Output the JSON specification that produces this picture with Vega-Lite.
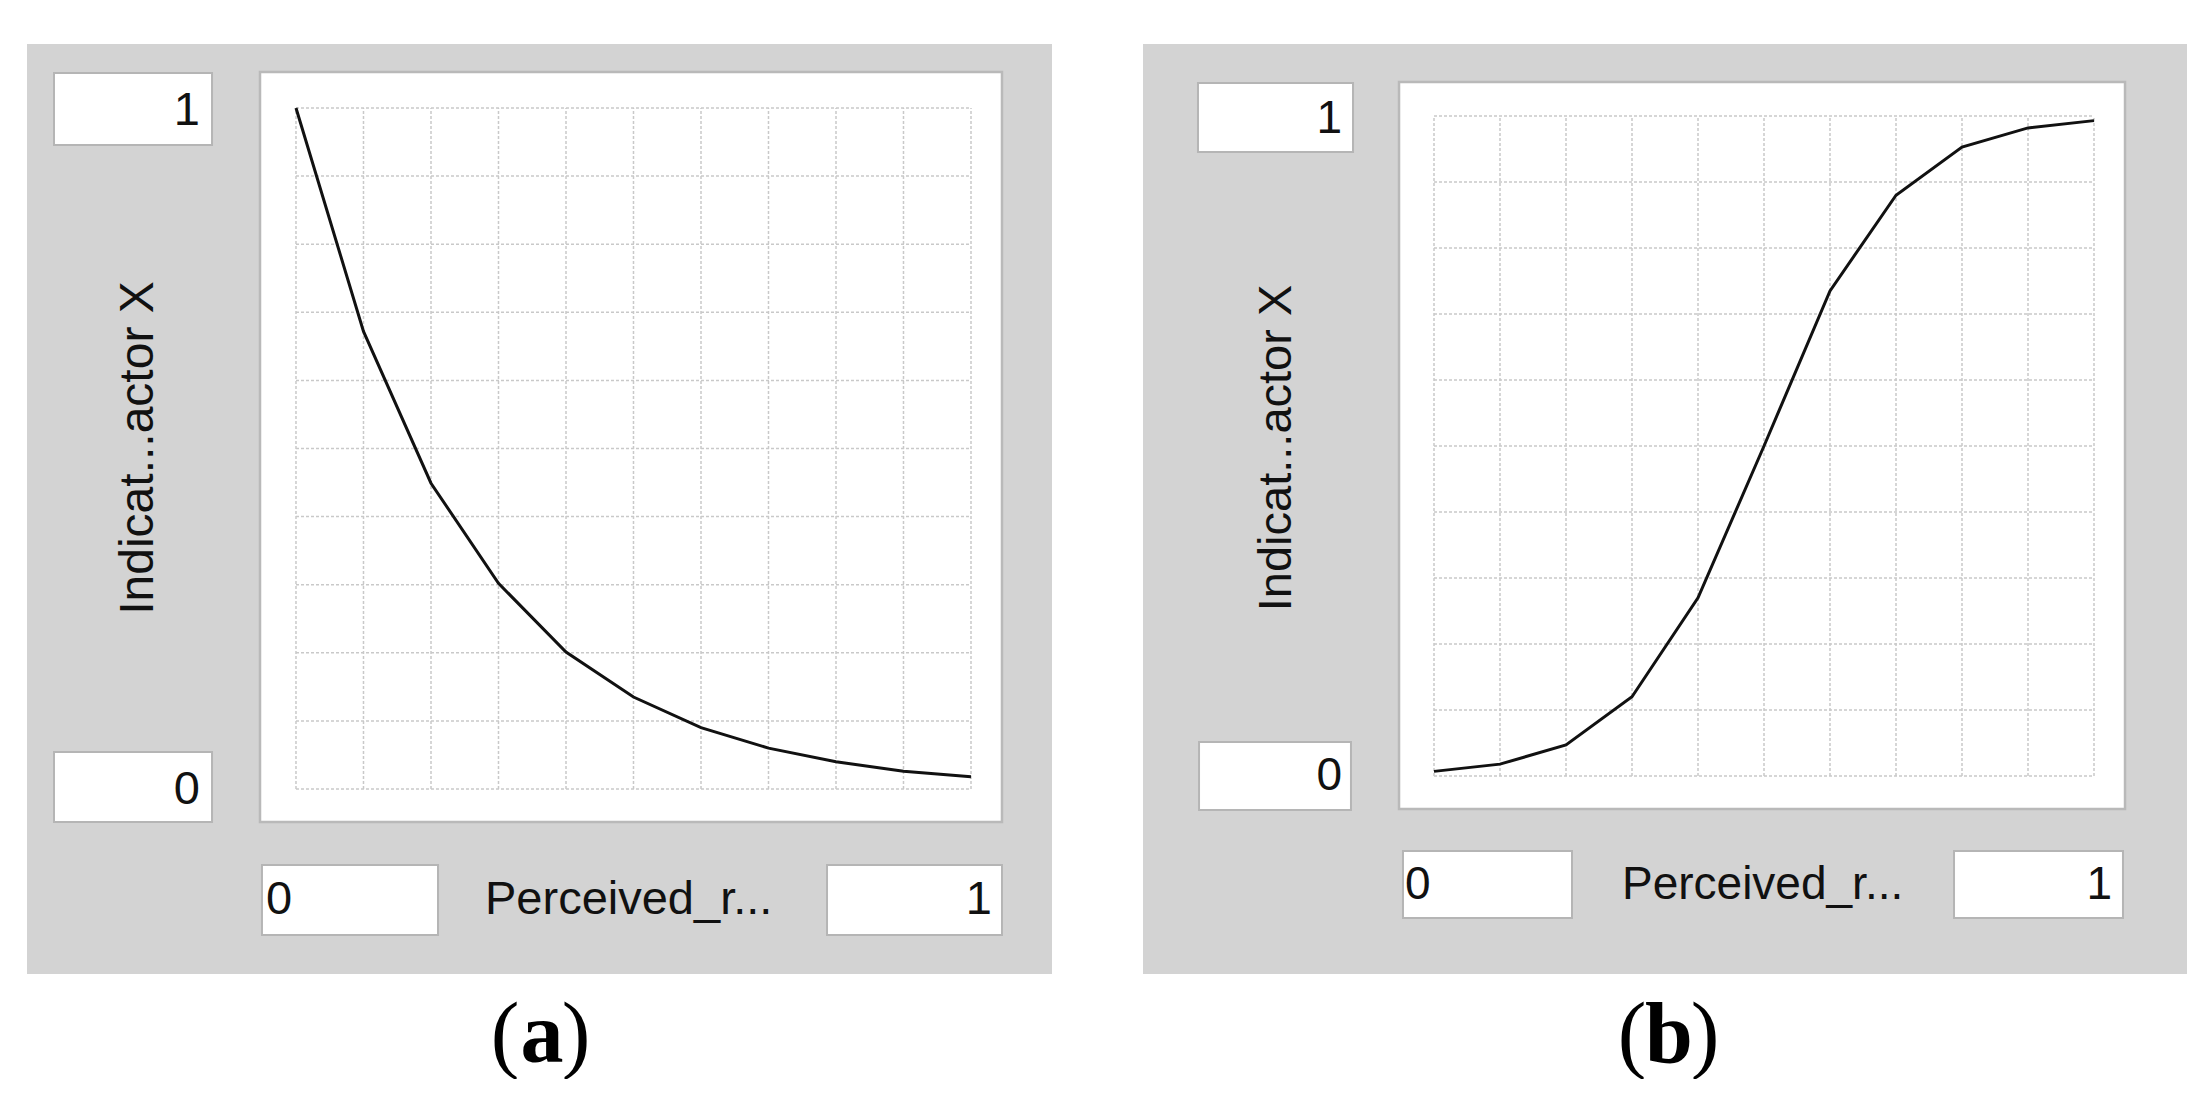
{
  "$schema": "https://vega.github.io/schema/vega-lite/v6.json",
  "background": "white",
  "padding": {"left": 27, "top": 44, "right": 0, "bottom": 0},
  "spacing": 91,
  "bounds": "flush",
  "config": {
    "view": {"fill": "#d3d3d3", "stroke": null},
    "axis": {"disable": true},
    "text": {"font": "Liberation Sans", "color": "#111111"}
  },
  "datasets": {
    "a": [
      {"x": 0, "y": 1}, {"x": 0.1, "y": 0.672}, {"x": 0.2, "y": 0.449}, {"x": 0.3, "y": 0.302},
      {"x": 0.4, "y": 0.201}, {"x": 0.5, "y": 0.135}, {"x": 0.6, "y": 0.09}, {"x": 0.7, "y": 0.06},
      {"x": 0.8, "y": 0.04}, {"x": 0.9, "y": 0.026}, {"x": 1, "y": 0.018}
    ],
    "b": [
      {"x": 0, "y": 0.007}, {"x": 0.1, "y": 0.018}, {"x": 0.2, "y": 0.047}, {"x": 0.3, "y": 0.12},
      {"x": 0.4, "y": 0.27}, {"x": 0.5, "y": 0.5}, {"x": 0.6, "y": 0.735}, {"x": 0.7, "y": 0.88},
      {"x": 0.8, "y": 0.953}, {"x": 0.9, "y": 0.982}, {"x": 1, "y": 0.993}
    ]
  },
  "hconcat": [
    {
      "width": 1025,
      "height": 930,
      "data": {"name": "a"},
      "layer": [
        {"data": {"values": [{}]}, "mark": {"type": "rect", "fill": "white", "stroke": "#b9b9b9", "strokeWidth": 2.5},
         "encoding": {
           "x": {"datum": -0.0533, "type": "quantitative", "scale": {"domain": [-0.3985, 1.12], "nice": false, "zero": false}},
           "x2": {"datum": 1.0459},
           "y": {"datum": -0.0485, "type": "quantitative", "scale": {"domain": [-0.2717, 1.094], "nice": false, "zero": false}},
           "y2": {"datum": 1.0529}}},
        {"mark": {"type": "rule", "stroke": "#c9c9c9", "strokeWidth": 1.5, "strokeDash": [3, 2]},
         "encoding": {"x": {"field": "x", "type": "quantitative"}, "y": {"datum": 0}, "y2": {"datum": 1}}},
        {"mark": {"type": "rule", "stroke": "#c9c9c9", "strokeWidth": 1.5, "strokeDash": [3, 2]},
         "encoding": {"y": {"field": "x", "type": "quantitative"}, "x": {"datum": 0}, "x2": {"datum": 1}}},
        {"mark": {"type": "line", "stroke": "#111111", "strokeWidth": 3},
         "encoding": {"x": {"field": "x", "type": "quantitative"}, "y": {"field": "y", "type": "quantitative"}}},
        {"data": {"values": [{}]}, "mark": {"type": "rect", "fill": "white", "stroke": "#b5b5b5", "strokeWidth": 2},
         "encoding": {"x": {"datum": -0.3585}, "x2": {"datum": -0.1244}, "y": {"datum": 0.9457}, "y2": {"datum": 1.0514}}},
        {"data": {"values": [{}]}, "mark": {"type": "text", "text": "1", "fontSize": 47, "align": "right", "baseline": "middle"},
         "encoding": {"x": {"datum": -0.1422}, "y": {"datum": 0.9963}}},
        {"data": {"values": [{}]}, "mark": {"type": "rect", "fill": "white", "stroke": "#b5b5b5", "strokeWidth": 2},
         "encoding": {"x": {"datum": -0.3585}, "x2": {"datum": -0.1244}, "y": {"datum": -0.0485}, "y2": {"datum": 0.0543}}},
        {"data": {"values": [{}]}, "mark": {"type": "text", "text": "0", "fontSize": 47, "align": "right", "baseline": "middle"},
         "encoding": {"x": {"datum": -0.1422}, "y": {"datum": -0.0015}}},
        {"data": {"values": [{}]}, "mark": {"type": "rect", "fill": "white", "stroke": "#b5b5b5", "strokeWidth": 2},
         "encoding": {"x": {"datum": -0.0504}, "x2": {"datum": 0.2104}, "y": {"datum": -0.2144}, "y2": {"datum": -0.1116}}},
        {"data": {"values": [{}]}, "mark": {"type": "text", "text": "0", "fontSize": 47, "align": "left", "baseline": "middle"},
         "encoding": {"x": {"datum": -0.0444}, "y": {"datum": -0.163}}},
        {"data": {"values": [{}]}, "mark": {"type": "rect", "fill": "white", "stroke": "#b5b5b5", "strokeWidth": 2},
         "encoding": {"x": {"datum": 0.7867}, "x2": {"datum": 1.0459}, "y": {"datum": -0.2144}, "y2": {"datum": -0.1116}}},
        {"data": {"values": [{}]}, "mark": {"type": "text", "text": "1", "fontSize": 47, "align": "right", "baseline": "middle"},
         "encoding": {"x": {"datum": 1.0311}, "y": {"datum": -0.163}}},
        {"data": {"values": [{}]}, "mark": {"type": "text", "text": "Perceived_r...", "fontSize": 47, "align": "left", "baseline": "middle"},
         "encoding": {"x": {"datum": 0.28}, "y": {"datum": -0.163}}},
        {"data": {"values": [{}]}, "mark": {"type": "text", "text": "Indicat...actor X", "fontSize": 48, "align": "center", "baseline": "middle", "angle": 270},
         "encoding": {"x": {"datum": -0.232}, "y": {"datum": 0.5007}}},
        {"data": {"values": [{}]}, "mark": {"type": "text", "text": "(", "font": "Liberation Serif", "fontSize": 86, "align": "center", "baseline": "alphabetic", "dx": -37, "color": "black"},
         "encoding": {"x": {"datum": 0.3644}, "y": {"datum": -0.4009}}},
        {"data": {"values": [{}]}, "mark": {"type": "text", "text": "a", "font": "Liberation Serif", "fontWeight": "bold", "fontSize": 86, "align": "center", "baseline": "alphabetic", "color": "black"},
         "encoding": {"x": {"datum": 0.3644}, "y": {"datum": -0.4009}}},
        {"data": {"values": [{}]}, "mark": {"type": "text", "text": ")", "font": "Liberation Serif", "fontSize": 86, "align": "center", "baseline": "alphabetic", "dx": 34, "color": "black"},
         "encoding": {"x": {"datum": 0.3644}, "y": {"datum": -0.4009}}}
      ]
    },
    {
      "width": 1044,
      "height": 930,
      "data": {"name": "b"},
      "layer": [
        {"data": {"values": [{}]}, "mark": {"type": "rect", "fill": "white", "stroke": "#b9b9b9", "strokeWidth": 2.5},
         "encoding": {
           "x": {"datum": -0.053, "type": "quantitative", "scale": {"domain": [-0.4409, 1.1409], "nice": false, "zero": false}},
           "x2": {"datum": 1.047},
           "y": {"datum": -0.05, "type": "quantitative", "scale": {"domain": [-0.3, 1.1091], "nice": false, "zero": false}},
           "y2": {"datum": 1.0515}}},
        {"mark": {"type": "rule", "stroke": "#c9c9c9", "strokeWidth": 1.5, "strokeDash": [3, 2]},
         "encoding": {"x": {"field": "x", "type": "quantitative"}, "y": {"datum": 0}, "y2": {"datum": 1}}},
        {"mark": {"type": "rule", "stroke": "#c9c9c9", "strokeWidth": 1.5, "strokeDash": [3, 2]},
         "encoding": {"y": {"field": "x", "type": "quantitative"}, "x": {"datum": 0}, "x2": {"datum": 1}}},
        {"mark": {"type": "line", "stroke": "#111111", "strokeWidth": 3},
         "encoding": {"x": {"field": "x", "type": "quantitative"}, "y": {"field": "y", "type": "quantitative"}}},
        {"data": {"values": [{}]}, "mark": {"type": "rect", "fill": "white", "stroke": "#b5b5b5", "strokeWidth": 2},
         "encoding": {"x": {"datum": -0.3576}, "x2": {"datum": -0.1227}, "y": {"datum": 0.9455}, "y2": {"datum": 1.05}}},
        {"data": {"values": [{}]}, "mark": {"type": "text", "text": "1", "fontSize": 46, "align": "right", "baseline": "middle"},
         "encoding": {"x": {"datum": -0.1394}, "y": {"datum": 0.9955}}},
        {"data": {"values": [{}]}, "mark": {"type": "rect", "fill": "white", "stroke": "#b5b5b5", "strokeWidth": 2},
         "encoding": {"x": {"datum": -0.356}, "x2": {"datum": -0.1258}, "y": {"datum": -0.0515}, "y2": {"datum": 0.0515}}},
        {"data": {"values": [{}]}, "mark": {"type": "text", "text": "0", "fontSize": 46, "align": "right", "baseline": "middle"},
         "encoding": {"x": {"datum": -0.1394}, "y": {"datum": 0}}},
        {"data": {"values": [{}]}, "mark": {"type": "rect", "fill": "white", "stroke": "#b5b5b5", "strokeWidth": 2},
         "encoding": {"x": {"datum": -0.047}, "x2": {"datum": 0.2091}, "y": {"datum": -0.2152}, "y2": {"datum": -0.1136}}},
        {"data": {"values": [{}]}, "mark": {"type": "text", "text": "0", "fontSize": 46, "align": "left", "baseline": "middle"},
         "encoding": {"x": {"datum": -0.0439}, "y": {"datum": -0.1652}}},
        {"data": {"values": [{}]}, "mark": {"type": "rect", "fill": "white", "stroke": "#b5b5b5", "strokeWidth": 2},
         "encoding": {"x": {"datum": 0.7879}, "x2": {"datum": 1.0439}, "y": {"datum": -0.2152}, "y2": {"datum": -0.1136}}},
        {"data": {"values": [{}]}, "mark": {"type": "text", "text": "1", "fontSize": 46, "align": "right", "baseline": "middle"},
         "encoding": {"x": {"datum": 1.0273}, "y": {"datum": -0.1652}}},
        {"data": {"values": [{}]}, "mark": {"type": "text", "text": "Perceived_r...", "fontSize": 46, "align": "left", "baseline": "middle"},
         "encoding": {"x": {"datum": 0.2848}, "y": {"datum": -0.1652}}},
        {"data": {"values": [{}]}, "mark": {"type": "text", "text": "Indicat...actor X", "fontSize": 47, "align": "center", "baseline": "middle", "angle": 270},
         "encoding": {"x": {"datum": -0.2379}, "y": {"datum": 0.497}}},
        {"data": {"values": [{}]}, "mark": {"type": "text", "text": "(", "font": "Liberation Serif", "fontSize": 86, "align": "center", "baseline": "alphabetic", "dx": -37, "color": "black"},
         "encoding": {"x": {"datum": 0.356}, "y": {"datum": -0.4333}}},
        {"data": {"values": [{}]}, "mark": {"type": "text", "text": "b", "font": "Liberation Serif", "fontWeight": "bold", "fontSize": 86, "align": "center", "baseline": "alphabetic", "color": "black"},
         "encoding": {"x": {"datum": 0.356}, "y": {"datum": -0.4333}}},
        {"data": {"values": [{}]}, "mark": {"type": "text", "text": ")", "font": "Liberation Serif", "fontSize": 86, "align": "center", "baseline": "alphabetic", "dx": 36, "color": "black"},
         "encoding": {"x": {"datum": 0.356}, "y": {"datum": -0.4333}}}
      ]
    }
  ]
}
